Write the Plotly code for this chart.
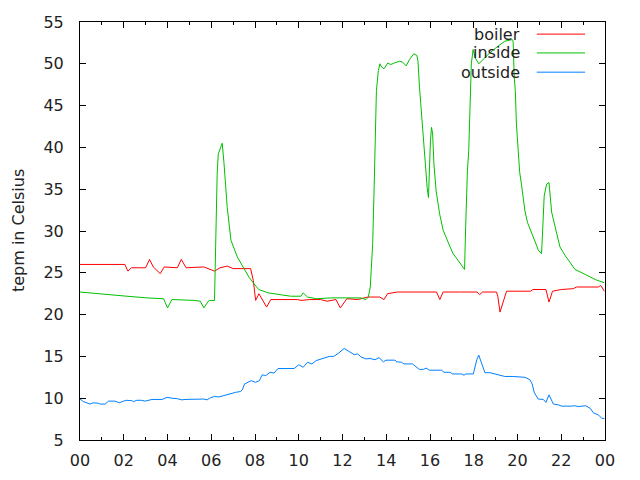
import plotly.graph_objects as go

# hour of day (0-24) and temperature in Celsius
boiler_h = [0, 2.05, 2.19, 2.35, 3.0, 3.18, 3.35, 3.67, 3.85, 4.3, 4.45, 4.63, 4.85, 5.66,
            6.15, 6.4, 6.73, 7.0, 7.8, 7.92, 8.03, 8.18, 8.53, 8.72, 9.94, 10.1, 10.5, 11.0,
            11.3, 11.7, 11.9, 12.2, 12.7, 13.15, 13.7, 13.9, 14.06, 14.5, 16.3, 16.45, 16.6,
            17.35, 18.15, 18.27, 18.4, 19.04, 19.1, 19.2, 19.5, 20.6, 20.7, 21.3, 21.44, 21.6,
            22.0, 22.55, 22.7, 23.7, 23.8, 23.97]
boiler_t = [26.0, 26.0, 25.2, 25.6, 25.6, 26.6, 25.7, 24.9, 25.7, 25.6, 25.6, 26.6, 25.6, 25.7,
            25.2, 25.6, 25.8, 25.5, 25.5, 24.1, 21.7, 22.5, 20.9, 21.8, 21.8, 21.7, 21.8, 21.8,
            21.6, 21.8, 20.8, 21.9, 21.8, 22.1, 22.1, 21.8, 22.5, 22.7, 22.7, 21.8, 22.7,
            22.7, 22.7, 22.4, 22.7, 22.7, 22.2, 20.3, 22.8, 22.8, 23.0, 23.0, 21.5, 22.8,
            23.0, 23.1, 23.3, 23.3, 23.5, 22.8]

inside_h = [0, 0.76, 2.14, 3.06, 3.82, 4.0, 4.2, 5.2, 5.5, 5.66, 5.9, 6.15, 6.16, 6.2, 6.27,
            6.32, 6.5, 6.58, 6.73, 6.9, 7.19, 7.49, 7.72, 7.95, 8.17, 8.6, 9.17, 9.63, 10.1,
            10.2, 10.4, 10.8, 11.5, 12.84, 13.07, 13.18, 13.27, 13.3, 13.38, 13.45, 13.5,
            13.55, 13.64, 13.71, 13.79, 13.9, 14.07, 14.2, 14.37, 14.6, 14.75, 14.91, 15.06,
            15.26, 15.4, 15.45, 15.52, 15.63, 15.72, 15.78, 15.87, 15.93, 15.98, 16.02, 16.07,
            16.12, 16.18, 16.28, 16.44, 16.6, 16.82, 17.05, 17.28, 17.58, 17.63, 17.66, 17.71,
            17.77, 17.81, 17.89, 17.97, 18.07, 18.23, 18.42, 18.73, 19.1, 19.42, 19.76, 19.8,
            19.85, 19.9, 19.95, 20.03, 20.1, 20.18, 20.34, 20.46, 20.64, 20.87, 20.95, 21.1,
            21.15, 21.22, 21.33, 21.44, 21.56, 21.71, 21.94, 22.17, 22.4, 22.63, 23.1, 23.55,
            23.97]
inside_t = [22.7, 22.5, 22.2, 22.0, 21.9, 20.8, 21.8, 21.7, 21.6, 20.8, 21.7, 21.7, 23.7, 28.1, 36.8,
            39.2, 40.5, 38.2, 32.8, 28.9, 26.9, 25.5, 24.5, 23.7, 23.0, 22.6, 22.4, 22.2, 22.2,
            22.6, 22.1, 21.9, 22.0, 22.0, 21.8, 22.1, 23.3, 24.5, 28.5, 35.6, 42.4,
            46.8, 49.2, 50.0, 49.6, 49.4, 50.1, 49.9, 50.1, 50.3, 50.2, 49.75, 50.5,
            51.2, 51.0, 50.3, 47.2, 43.2, 40.0, 38.0, 35.2, 34.0, 38.2, 40.8, 42.4,
            41.6, 38.0, 34.8, 32.05, 30.1, 28.7, 27.3, 26.5, 25.4, 30.5, 33.8, 37.2,
            39.6, 44.0, 50.0, 51.7, 50.7, 50.0, 50.5, 51.3, 52.1, 52.7, 52.9, 52.7,
            48.4, 46.8, 42.8, 40.0, 37.0, 35.6, 32.4, 31.0, 29.9, 28.3, 27.7, 27.3,
            30.1, 34.2, 35.6, 35.8, 32.25, 30.5, 28.1, 27.1, 26.3, 25.4, 24.8, 24.2,
            23.8]

outside_h = [0, 0.15, 0.46, 0.61, 0.84, 0.92, 1.15, 1.3, 1.6, 1.8, 1.99, 2.14, 2.37, 2.45, 2.6,
             2.8, 2.98, 3.1, 3.29, 3.75, 3.98, 4.2, 4.43, 4.66, 4.8, 5.66, 5.81, 5.96, 6.15,
             6.35, 6.57, 6.88, 7.11, 7.34, 7.42, 7.52, 7.83, 8.03, 8.2, 8.33, 8.49, 8.69, 8.87,
             9.05, 9.79, 10.0, 10.2, 10.4, 10.6, 10.8, 11.16, 11.4, 11.6, 11.8, 12.08, 12.39,
             12.54, 12.69, 12.84, 13.07, 13.26, 13.49, 13.67, 13.87, 13.99, 14.4, 14.48, 14.7,
             14.81, 15.2, 15.36, 15.51, 15.7, 15.82, 15.97, 16.53, 16.64, 16.91, 17.03, 17.45,
             17.55, 17.64, 17.98, 18.06, 18.14, 18.23, 18.34, 18.51, 18.74, 19.19, 19.42, 19.8,
             20.34, 20.57, 20.67, 20.77, 20.95, 21.18, 21.3, 21.44, 21.64, 21.87, 22.02, 22.48,
             22.6, 22.78, 22.95, 23.12, 23.32, 23.47, 23.7, 23.85, 23.97]
outside_t = [9.9, 9.6, 9.3, 9.45, 9.4, 9.3, 9.3, 9.65, 9.65, 9.45, 9.65, 9.75, 9.7, 9.6, 9.75,
             9.75, 9.65, 9.75, 9.85, 9.85, 10.1, 10.0, 9.95, 9.8, 9.85, 9.9, 9.8, 10.05, 10.2,
             10.15, 10.3, 10.6, 10.7, 10.8, 11.0, 11.7, 12.1, 11.9, 12.1, 12.8, 12.7, 13.1, 13.0,
             13.55, 13.55, 14.0, 13.7, 14.3, 14.1, 14.5, 14.75, 15.0, 15.0, 15.35, 15.95, 15.4,
             15.2, 15.3, 14.95, 14.7, 14.75, 14.6, 14.85, 14.35, 14.55, 14.55, 14.35, 14.3,
             14.1, 14.1, 13.75, 13.45, 13.45, 13.6, 13.35, 13.35, 13.1, 13.1, 12.9, 12.9,
             12.75, 12.9, 12.9, 13.75, 14.6, 15.15, 14.35, 13.05, 13.05, 12.75, 12.6, 12.6,
             12.5, 12.2, 11.7, 10.65, 9.9, 9.85, 9.5, 10.4, 9.3, 9.2, 9.05, 9.05,
             9.1, 9.0, 9.05, 9.1, 8.8, 8.25, 8.0, 7.6, 7.55]

series_names = ["boiler", "inside", "outside"]
series_colors = ["#ff0000", "#00c000", "#0080ff"]

tick_hours = list(range(0, 25, 2))
tick_text = ["00", "02", "04", "06", "08", "10", "12", "14", "16", "18", "20", "22", "00"]

font = dict(family="DejaVu Sans", size=16, color="#222222")

fig = go.Figure()
for name, hh, tt, col in zip(series_names,
                             [boiler_h, inside_h, outside_h],
                             [boiler_t, inside_t, outside_t],
                             series_colors):
    fig.add_trace(go.Scatter(x=hh, y=tt, mode="lines", name=name,
                             line=dict(color=col, width=1), showlegend=False))

# gnuplot style key: text right-aligned, line sample to its right
key_y = [0.971, 0.926, 0.880]
for name, col, ky in zip(series_names, series_colors, key_y):
    fig.add_annotation(xref="paper", yref="paper", x=0.842, y=ky, text=name,
                       showarrow=False, xanchor="right", yanchor="middle", font=font)
    fig.add_shape(type="line", xref="paper", yref="paper", x0=0.870, x1=0.962,
                  y0=ky, y1=ky, line=dict(color=col, width=1))

fig.add_annotation(xref="paper", yref="paper", x=-0.118, y=0.5, text="tepm in Celsius",
                   textangle=-90, showarrow=False, xanchor="center", yanchor="middle",
                   font=font)

axis_common = dict(showgrid=False, zeroline=False, showline=True, linecolor="black",
                   linewidth=1, mirror="ticks", ticks="inside", ticklen=6,
                   tickcolor="black", tickfont=font, automargin=False)

fig.update_xaxes(range=[0, 24], tickvals=tick_hours, ticktext=tick_text,
                 minor=dict(dtick=1, ticks="inside", ticklen=3, tickcolor="black"),
                 ticklabelstandoff=6, **axis_common)
fig.update_yaxes(range=[5, 55], dtick=5, ticklabelstandoff=12, **axis_common)

# page body has an 8px margin, so the plot area is offset to land at 80..605 x 22..440
fig.update_layout(width=640, height=480, plot_bgcolor="white", paper_bgcolor="white",
                  margin=dict(l=72, r=43, t=14, b=48), font=font)

fig.write_html("out.html")
